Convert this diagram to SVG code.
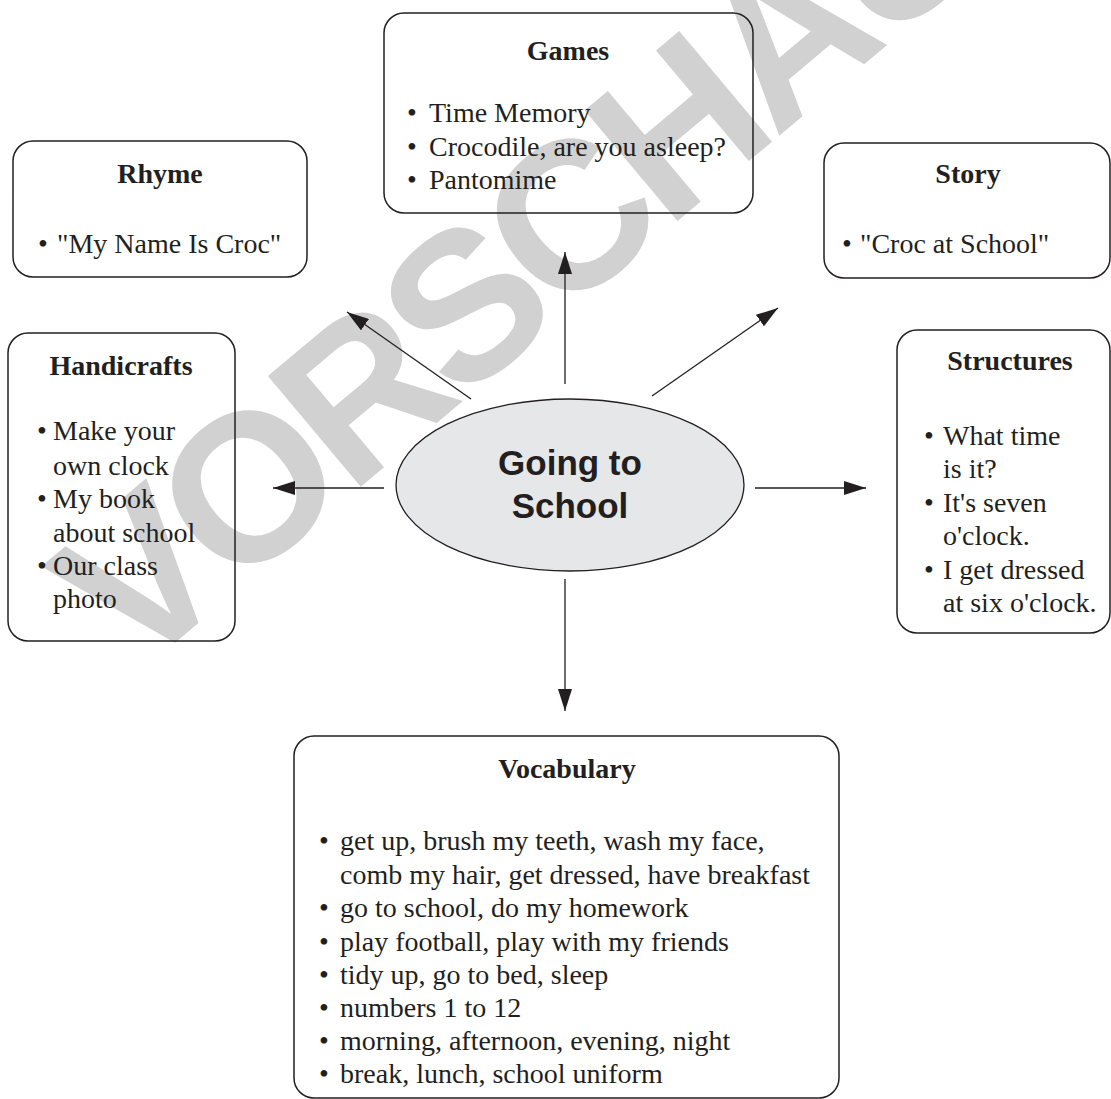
<svg xmlns="http://www.w3.org/2000/svg" width="1111" height="1099" viewBox="0 0 1111 1099">
<defs>
<style>
.box{fill:none;stroke:#231f20;stroke-width:1.5}
.t{font-family:"Liberation Serif","Times New Roman",serif;font-size:28px;fill:#231f20}
.h{font-family:"Liberation Serif","Times New Roman",serif;font-size:28px;font-weight:bold;fill:#231f20;text-anchor:middle}
.c{font-family:"Liberation Sans",Arial,sans-serif;font-size:35px;font-weight:bold;fill:#231f20;text-anchor:middle}
.wm{font-family:"Liberation Sans",Arial,sans-serif;font-size:210px;font-weight:bold;letter-spacing:-10px;fill:#d1d1d1}
.conn line{stroke:#231f20;stroke-width:1.3;marker-end:url(#ah)}
</style>
<marker id="ah" markerUnits="userSpaceOnUse" markerWidth="23" markerHeight="14" refX="22" refY="7" orient="auto">
<path d="M0,0 L22,7 L0,14 z" fill="#231f20"/>
</marker>
</defs>
<rect width="1111" height="1099" fill="#ffffff"/>
<text class="wm" x="133" y="678" transform="rotate(-40 133 678)">VORSCHAU</text>

<g id="conns" class="conn">
<line x1="565" y1="384" x2="565" y2="252"/>
<line x1="471" y1="399" x2="347" y2="312"/>
<line x1="652" y1="396" x2="778" y2="308"/>
<line x1="384" y1="488" x2="273" y2="488"/>
<line x1="755" y1="488" x2="866" y2="488"/>
<line x1="565" y1="579" x2="565" y2="711"/>
</g>

<g id="center">
<ellipse cx="570" cy="485" rx="174" ry="86" fill="#e6e7e8" stroke="#231f20" stroke-width="1.3"/>
<text class="c" x="570" y="475">Going to</text>
<text class="c" x="570" y="518">School</text>
</g>

<g id="games">
<rect class="box" x="384" y="13" width="369" height="200" rx="20"/>
<text class="h" x="568" y="60">Games</text>
<text class="t" y="122"><tspan x="407">•</tspan><tspan x="429">Time Memory</tspan></text>
<text class="t" y="156"><tspan x="407">•</tspan><tspan x="429">Crocodile, are you asleep?</tspan></text>
<text class="t" y="189"><tspan x="407">•</tspan><tspan x="429">Pantomime</tspan></text>
</g>

<g id="rhyme">
<rect class="box" x="13" y="141" width="294" height="136" rx="20"/>
<text class="h" x="160" y="183">Rhyme</text>
<text class="t" y="253"><tspan x="38">•</tspan><tspan x="57">"My Name Is Croc"</tspan></text>
</g>

<g id="story">
<rect class="box" x="824" y="143" width="286" height="135" rx="20"/>
<text class="h" x="968" y="183">Story</text>
<text class="t" y="253"><tspan x="842">•</tspan><tspan x="860">"Croc at School"</tspan></text>
</g>

<g id="handicrafts">
<rect class="box" x="8" y="333" width="227" height="308" rx="20"/>
<text class="h" x="121" y="375">Handicrafts</text>
<text class="t" y="440"><tspan x="37">•</tspan><tspan x="53">Make your</tspan></text>
<text class="t" x="53" y="475">own clock</text>
<text class="t" y="508"><tspan x="37">•</tspan><tspan x="53">My book</tspan></text>
<text class="t" x="53" y="542">about school</text>
<text class="t" y="575"><tspan x="37">•</tspan><tspan x="53">Our class</tspan></text>
<text class="t" x="53" y="608">photo</text>
</g>

<g id="structures">
<rect class="box" x="897" y="330" width="213" height="303" rx="20"/>
<text class="h" x="1010" y="370">Structures</text>
<text class="t" y="445"><tspan x="924">•</tspan><tspan x="943">What time</tspan></text>
<text class="t" x="943" y="478">is it?</text>
<text class="t" y="512"><tspan x="924">•</tspan><tspan x="943">It's seven</tspan></text>
<text class="t" x="943" y="545">o'clock.</text>
<text class="t" y="579"><tspan x="924">•</tspan><tspan x="943">I get dressed</tspan></text>
<text class="t" x="943" y="612">at six o'clock.</text>
</g>

<g id="vocabulary">
<rect class="box" x="294" y="736" width="545" height="362" rx="20"/>
<text class="h" x="567" y="778">Vocabulary</text>
<text class="t" y="850"><tspan x="319">•</tspan><tspan x="340">get up, brush my teeth, wash my face,</tspan></text>
<text class="t" x="340" y="884">comb my hair, get dressed, have breakfast</text>
<text class="t" y="917"><tspan x="319">•</tspan><tspan x="340">go to school, do my homework</tspan></text>
<text class="t" y="951"><tspan x="319">•</tspan><tspan x="340">play football, play with my friends</tspan></text>
<text class="t" y="984"><tspan x="319">•</tspan><tspan x="340">tidy up, go to bed, sleep</tspan></text>
<text class="t" y="1017"><tspan x="319">•</tspan><tspan x="340">numbers 1 to 12</tspan></text>
<text class="t" y="1050"><tspan x="319">•</tspan><tspan x="340">morning, afternoon, evening, night</tspan></text>
<text class="t" y="1083"><tspan x="319">•</tspan><tspan x="340">break, lunch, school uniform</tspan></text>
</g>
</svg>
